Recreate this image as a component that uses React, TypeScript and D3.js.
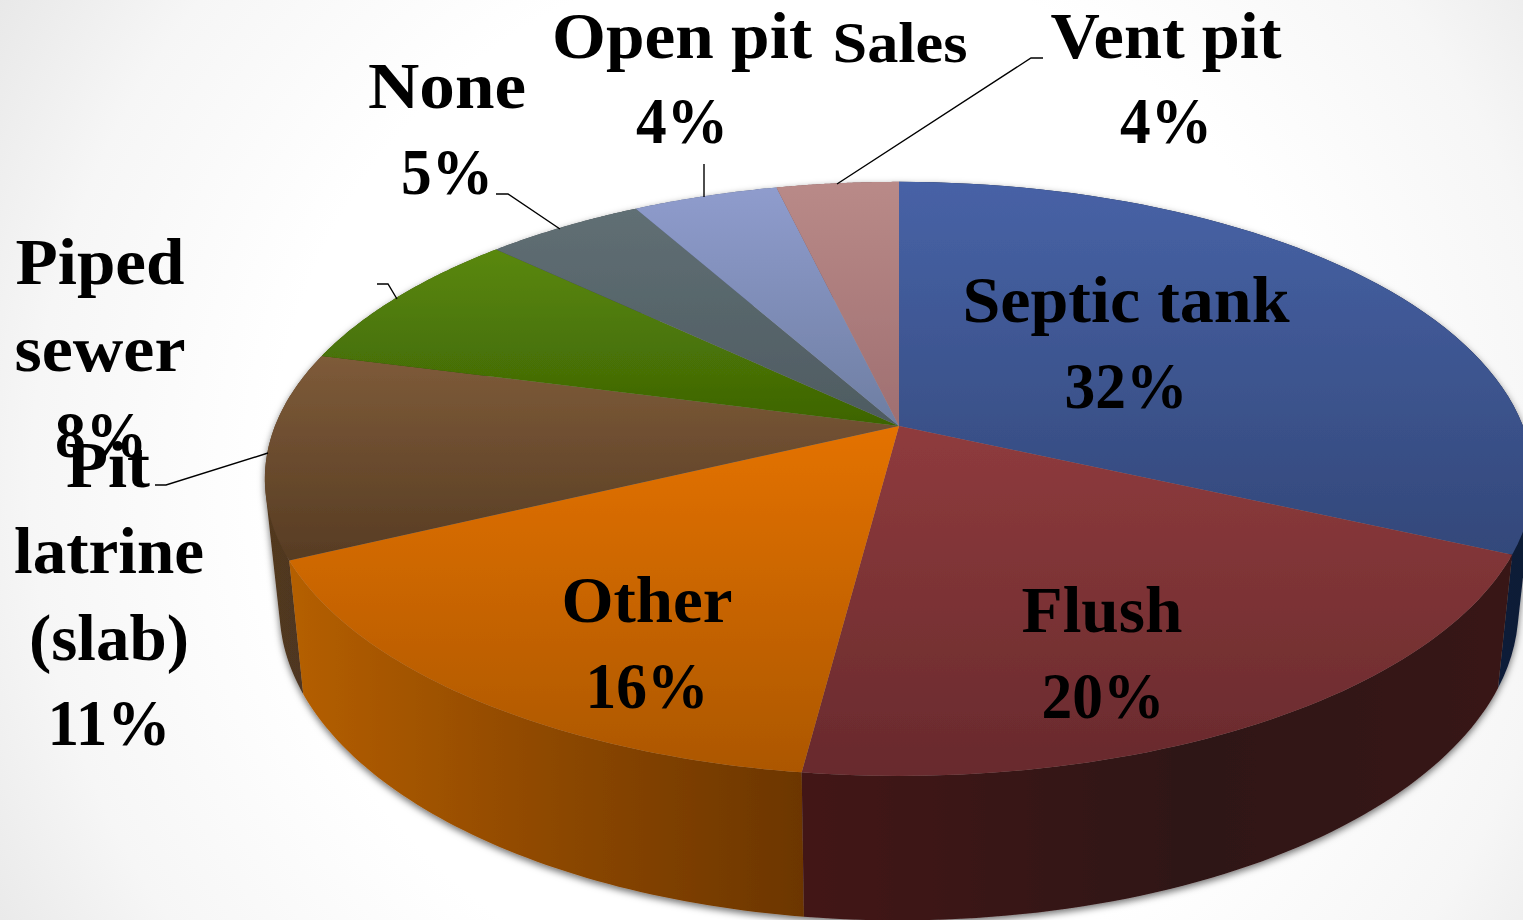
import React from "react";
import * as d3 from "d3";

const categories = ["Septic tank", "Flush", "Other", "Pit latrine (slab)", "Piped sewer", "None", "Open pit", "Vent pit"];
const shares = [31.8, 20.25, 15.85, 11.2, 8, 4.8, 4.4, 3.7];
const topLight = ["#4762a6", "#8f3b3d", "#e47200", "#7e5b39", "#5a880b", "#606f74", "#8f9ccd", "#b98a88"];
const topDark = ["#33487a", "#682a2d", "#ac5700", "#573c23", "#3d6404", "#4e5b61", "#6e7ea2", "#9f6f71"];
const sideLeft = ["#14213f", "#431919", "#b55f00", "#52381f", "#2e4a03", "#3a4448", "#525e7a", "#775254"];
const sideMid = ["#14213f", "#2e1212", "#8a4600", "#4f3620", "#2e4a03", "#3a4448", "#525e7a", "#775254"];
const sideRight = ["#101b36", "#381616", "#6c3600", "#4c3420", "#2e4a03", "#3a4448", "#525e7a", "#775254"];

type Label = { text: string; x: number; y: number; w: number; size?: number };
const labelLines: Label[] = [
  { text: "Septic tank", x: 1126, y: 322, w: 327 },
  { text: "32%", x: 1126, y: 408, w: 123 },
  { text: "Flush", x: 1102, y: 632, w: 161 },
  { text: "20%", x: 1103, y: 718, w: 123 },
  { text: "Other", x: 647, y: 622, w: 171 },
  { text: "16%", x: 647, y: 708, w: 123 },
  { text: "Piped", x: 100, y: 284, w: 169 },
  { text: "sewer", x: 100, y: 371, w: 171 },
  { text: "8%", x: 101, y: 457, w: 92 },
  { text: "Pit", x: 108, y: 487, w: 84 },
  { text: "latrine", x: 109, y: 573, w: 190 },
  { text: "(slab)", x: 109, y: 660, w: 160 },
  { text: "11%", x: 109, y: 745, w: 123 },
  { text: "None", x: 447, y: 108, w: 158 },
  { text: "5%", x: 447, y: 194, w: 92 },
  { text: "Open pit", x: 682, y: 58, w: 260 },
  { text: "Sales", x: 900, y: 62, w: 135, size: 56 },
  { text: "4%", x: 682, y: 143, w: 92 },
  { text: "Vent pit", x: 1166, y: 58, w: 231 },
  { text: "4%", x: 1166, y: 143, w: 92 },
];
const leaders: [number, number][][] = [
  [[1043, 58], [1031, 58], [837, 184]],
  [[496, 194], [508, 194], [560, 229]],
  [[704, 164], [704, 197]],
  [[377, 284], [388, 284], [397, 299]],
  [[155, 485], [166, 485], [268, 453]],
];

// perspective disc
const CX = 899, CY = 426, F = 624, G = 287.6, K = 0.178;
const project = (t: number): [number, number] => {
  const u = Math.sin(t), v = -Math.cos(t), d = 1 - K * v;
  return [CX + (F * u) / d, CY + (G * v) / d];
};
const drop = ([x, y]: [number, number]): [number, number] => [CX + 0.977 * (x - CX), CY + 127 + 1.05 * (y - CY)];
const samples = (a: number, b: number) => d3.range(0, 61).map((i) => project(a + ((b - a) * i) / 60));

const line = d3.line<[number, number]>();
const arcs = d3.pie<number>().sort(null)(shares);
const depth = (t: number) => -Math.cos(t);
const order = d3.range(arcs.length).sort(
  (i, j) => depth((arcs[i].startAngle + arcs[i].endAngle) / 2) - depth((arcs[j].startAngle + arcs[j].endAngle) / 2)
);

// the wall of a slice: one quad per rim step, all clockwise so that the union fills without seams
const wall = (a: number, b: number) => {
  const rim = samples(a, b);
  return d3
    .pairs(rim)
    .map(([p, q]) => {
      const quad: [number, number][] = [p, q, drop(q), drop(p)];
      const area = d3.polygonArea(quad);
      return line(area >= 0 ? quad : [...quad].reverse()) + "Z";
    })
    .join("");
};

export default function App() {
  return (
    <svg width={1523} height={920} style={{ position: "fixed", left: 0, top: 0, display: "block" }}>
      <defs>
        <radialGradient id="bg" gradientUnits="userSpaceOnUse" cx={800} cy={480} r={960}>
          <stop offset="0.55" stopColor="#ffffff" />
          <stop offset="0.8" stopColor="#f6f6f6" />
          <stop offset="1" stopColor="#e6e6e6" />
        </radialGradient>
        <filter id="shadow" x="-5%" y="-5%" width="110%" height="112%">
          <feDropShadow dx="0" dy="3" stdDeviation="3.5" floodColor="#000" floodOpacity="0.55" />
        </filter>
        {arcs.map((_, i) => (
          <React.Fragment key={i}>
            <linearGradient id={`top${i}`} x1="0" y1="0" x2="0" y2="1">
              <stop offset="0" stopColor={topLight[i]} />
              <stop offset="1" stopColor={topDark[i]} />
            </linearGradient>
            <linearGradient id={`side${i}`} x1="0" y1="0" x2="1" y2="0">
              <stop offset="0" stopColor={sideLeft[i]} />
              <stop offset="0.55" stopColor={sideMid[i]} />
              <stop offset="1" stopColor={sideRight[i]} />
            </linearGradient>
          </React.Fragment>
        ))}
      </defs>
      <rect width={1523} height={920} fill="url(#bg)" />
      <g filter="url(#shadow)">
        {order.map((i) => (
          <path key={i} d={wall(arcs[i].startAngle, arcs[i].endAngle)} fill={`url(#side${i})`} data-name={categories[i]} />
        ))}
        {arcs.map((a, i) => {
          const pts: [number, number][] = [[CX, CY], ...samples(a.startAngle, a.endAngle)];
          return <path key={i} d={line(pts) + "Z"} fill={`url(#top${i})`} />;
        })}
      </g>
      {leaders.map((l, i) => (
        <path key={i} d={line(l) ?? ""} fill="none" stroke="#000" strokeWidth={1.4} />
      ))}
      {labelLines.map((l, i) => (
        <text
          key={i}
          x={l.x}
          y={l.y}
          textAnchor="middle"
          textLength={l.w}
          lengthAdjust="spacingAndGlyphs"
          fontFamily="'Liberation Serif', serif"
          fontWeight="bold"
          fontSize={l.size ?? 66}
          fill="#000"
        >
          {l.text}
        </text>
      ))}
    </svg>
  );
}
